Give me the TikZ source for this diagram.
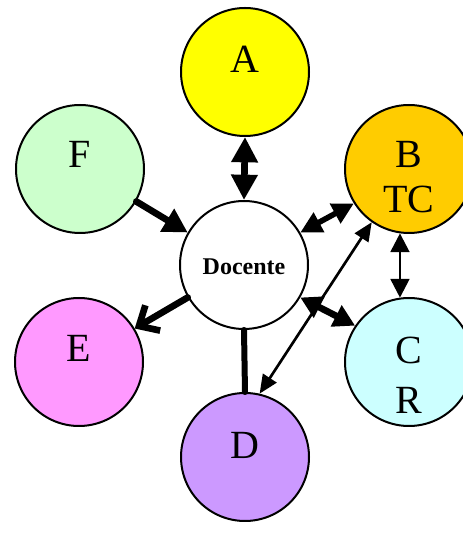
\documentclass[tikz,border=0pt]{standalone}
\usepackage{fontspec}
\setmainfont{Liberation Serif}
\usepackage{tikz}
\usetikzlibrary{arrows.meta}
\definecolor{yelA}{RGB}{255,255,0}
\definecolor{oraB}{RGB}{255,204,0}
\definecolor{cyaC}{RGB}{204,255,255}
\definecolor{vioD}{RGB}{204,153,255}
\definecolor{pinE}{RGB}{255,153,255}
\definecolor{greF}{RGB}{204,255,204}

\begin{document}
\begin{tikzpicture}[line cap=round,line join=round,x=0.75pt,y=0.75pt,
    circ/.style={circle,draw=black,line width=1.5pt,minimum size=96pt,inner sep=0pt},
    letr/.style={font=\fontsize{30}{34}\selectfont,align=center,inner sep=0pt},
    fat/.style={line width=5pt},
    thin/.style={line width=2pt},
    bighead/.style={{Triangle[length=19pt,width=19pt]}-{Triangle[length=19pt,width=19pt]}}]
    \useasboundingbox (0,0) rectangle (462,539);
    \node[circ,fill=white] (doc) at (244,274) {};
    \node[circ,fill=yelA] (A) at (245,467) {};
    \node[circ,fill=oraB] (B) at (409,370) {};
    \node[circ,fill=cyaC] (C) at (409,177) {};
    \node[circ,fill=vioD] (D) at (245,82) {};
    \node[circ,fill=pinE] (E) at (79,177) {};
    \node[circ,fill=greF] (F) at (80,370) {};
    \node[font=\fontsize{18}{20}\selectfont\bfseries,inner sep=0pt] (doctxt) at ([yshift=-1.5pt]doc.center) {Docente};
    \node[letr] (Atxt) at ([yshift=9.5pt]A.center) {A};
    \node[letr] (Btxt) at ([yshift=-6pt]B.center) {B\\TC};
    \node[letr] (Ctxt) at ([yshift=-10pt]C.center) {C\\[3pt]R};
    \node[letr] (Dtxt) at ([yshift=9pt]D.center) {D};
    \node[letr] (Etxt) at ([yshift=10pt]E.center) {E};
    \node[letr] (Ftxt) at ([yshift=11pt]F.center) {F};
    \draw[fat,bighead] (A.south) -- (doc.north);
    \draw[fat,-{Triangle[length=18pt,width=19pt]}] (F.-30) -- (doc.150);
    \draw[line width=4.2pt,{Triangle[length=16pt,width=16pt]}-{Triangle[length=16pt,width=16pt]}] (doc.30) -- (B.212);
    \draw[fat,{Triangle[length=16pt,width=17pt]}-{Triangle[length=16pt,width=17pt]}] (doc.-30) -- (C.146);
    \draw[fat,-{Straight Barb[length=12pt,width=22pt]}] (doc.210) -- (E.31);
    \draw[line width=4.5pt] (doc.south) -- (D.north);
    \draw[thin,{Triangle[length=14pt,width=12pt]}-{Triangle[length=14pt,width=12pt]}] (B.235) -- (D.77);
    \draw[thin,{Triangle[length=14pt,width=14pt]}-{Triangle[length=14pt,width=14pt]}] (B.262) -- (C.98);
\end{tikzpicture}
\end{document}
